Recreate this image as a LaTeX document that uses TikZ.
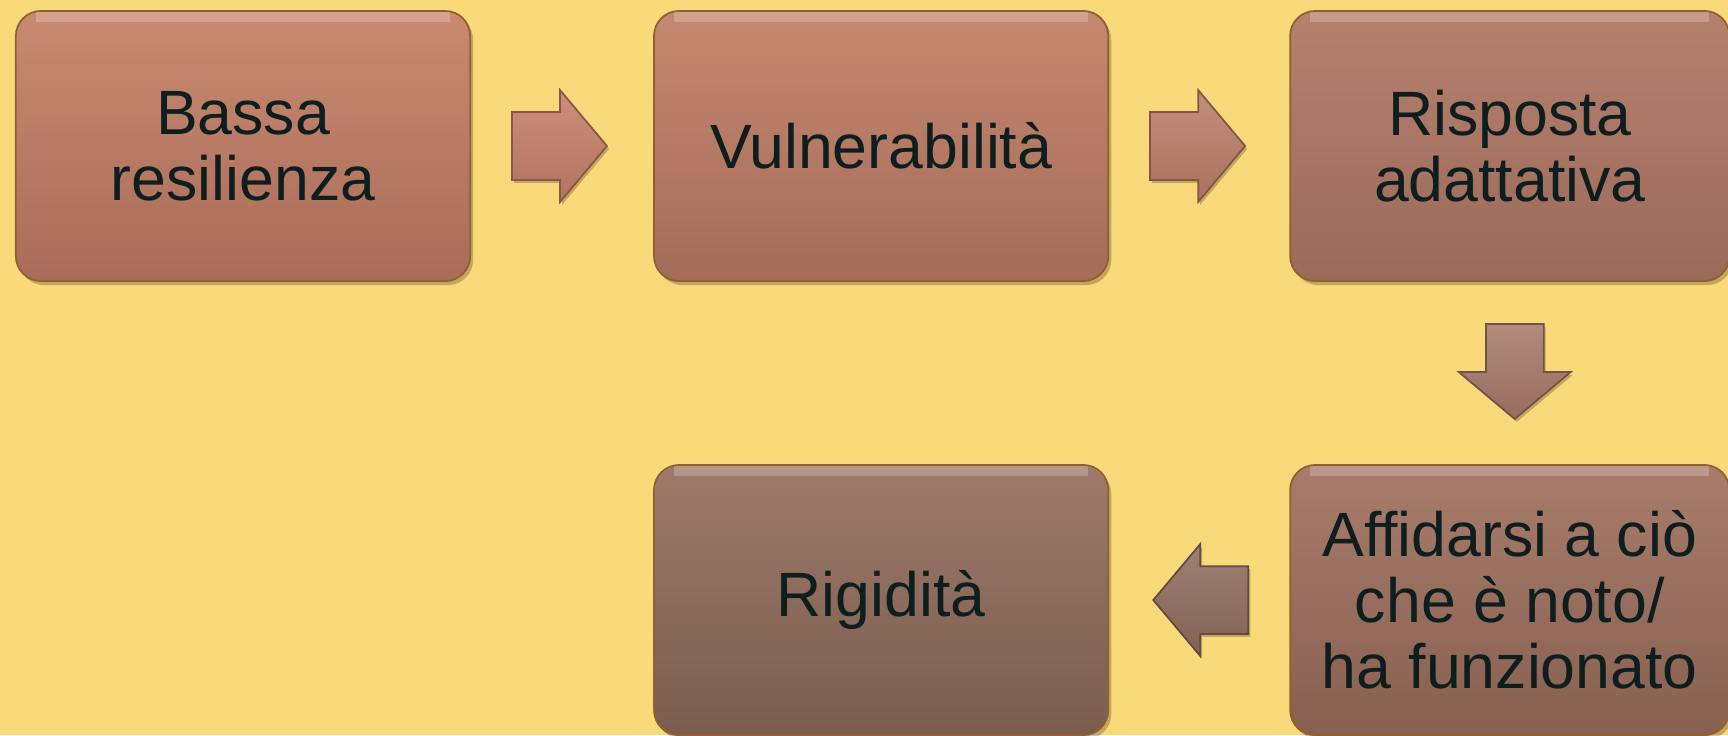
\documentclass[tikz,border=0pt]{standalone}
\usepackage{fontspec}
\setmainfont{Liberation Sans}
\usepackage{tikz}
\usetikzlibrary{positioning,calc,shapes.arrows,shadows}

\definecolor{bgyellow}{HTML}{F9DA7B}
\definecolor{textdark}{HTML}{0E1E1E}
\definecolor{arrA}{HTML}{C27C66}
\definecolor{arrB}{HTML}{BA7A66}
\definecolor{arrC}{HTML}{A47666}
\definecolor{arrD}{HTML}{8E6A5C}

\tikzset{
  box/.style={rectangle, rounded corners=0.25cm, minimum width=4.54cm, minimum height=2.70cm,
    align=center, text=textdark, font=\fontsize{17.8pt}{18.8pt}\selectfont, inner sep=0pt,
    draw=#1!75!black, line width=0.5pt,
    drop shadow={shadow xshift=0.03cm, shadow yshift=-0.04cm, opacity=0.3, fill=black!60!brown},
    path picture={\draw[white, opacity=0.22, line width=3pt]
      ([xshift=0.2cm,yshift=-0.06cm]path picture bounding box.north west) --
      ([xshift=-0.2cm,yshift=-0.06cm]path picture bounding box.north east);}},
  blockarrow/.style={single arrow, single arrow head extend=0.22cm, single arrow tip angle=100,
    minimum height=0.95cm, inner xsep=0pt, inner ysep=0.33cm, anchor=tail,
    draw=#1!70!black, line width=0.5pt, top color=#1!85!white, bottom color=#1!92!black,
    drop shadow={shadow xshift=0.02cm, shadow yshift=-0.03cm, opacity=0.3, fill=black!60!brown}}
}

\begin{document}
\begin{tikzpicture}[x=0.01cm,y=-0.01cm]
  % background, fixes the picture size
  \fill[bgyellow] (0,0) rectangle (1728,735);
  \useasboundingbox (0,0) rectangle (1728,735);

  % the five steps
  \node[box=brown, top color={rgb,255:red,201;green,138;blue,114}, bottom color={rgb,255:red,169;green,108;blue,88}]
    (bassa) at (243,146) {Bassa\\resilienza};
  \node[box=brown, top color={rgb,255:red,197;green,136;blue,112}, bottom color={rgb,255:red,164;green,108;blue,89}]
    (vuln) [right=1.82cm of bassa] {Vulnerabilità};
  \node[box=brown, minimum width=4.39cm, top color={rgb,255:red,183;green,128;blue,110}, bottom color={rgb,255:red,154;green,106;blue,90}]
    (risposta) [right=1.80cm of vuln] {Risposta\\adattativa};
  \node[box=brown, minimum width=4.39cm, top color={rgb,255:red,168;green,124;blue,107}, bottom color={rgb,255:red,135;green,96;blue,80}]
    (affidarsi) [below=1.82cm of risposta] {Affidarsi a ciò\\che è noto/\\ha funzionato};
  \node[box=brown, top color={rgb,255:red,158;green,122;blue,106}, bottom color={rgb,255:red,122;green,92;blue,78}]
    (rigidita) [below=1.82cm of vuln] {Rigidità};

  % block arrows between the steps, tail 0.4cm off the box
  \node[blockarrow=arrA] (a1) at ([xshift=0.4cm]bassa.east) {};
  \node[blockarrow=arrB] (a2) at ([xshift=0.4cm]vuln.east) {};
  \node[blockarrow=arrC, rotate=-90, inner ysep=0.28cm, single arrow head extend=0.27cm] (a3)
    at ([xshift=0.05cm,yshift=-0.41cm]risposta.south) {};
  \node[blockarrow=arrD, shape border rotate=180] (a4) at ([xshift=-0.40cm]affidarsi.west) {};
\end{tikzpicture}
\end{document}
